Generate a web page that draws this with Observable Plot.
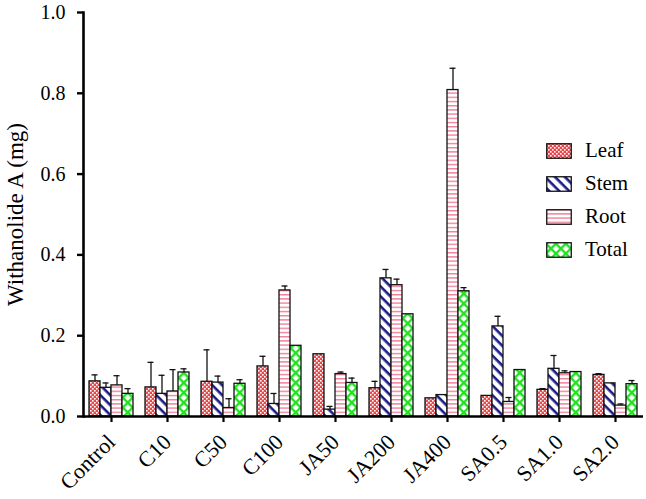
<!DOCTYPE html>
<html>
<head>
<meta charset="utf-8">
<script src="https://cdn.jsdelivr.net/npm/d3@7"></script>
<script src="https://cdn.jsdelivr.net/npm/@observablehq/plot@0.6"></script>
<style>
  html, body { margin: 0; padding: 0; background: #fff; }
  #wrap { position: relative; width: 646px; height: 499px; font-family: "Liberation Serif", "Times New Roman", serif; }
  #legend { position: absolute; left: 546px; top: 134px; }
  .li { display: flex; align-items: center; height: 33px; }
  .li svg { margin-right: 13px; }
  .li span { font-size: 21px; color: #000; font-family: "Liberation Serif", serif; }
</style>
</head>
<body>
<svg width="0" height="0" style="position:absolute">
  <defs>
    <pattern id="pLeaf" width="4" height="4" patternUnits="userSpaceOnUse">
      <rect width="4" height="4" fill="#e8474c"/>
      <rect width="1.6" height="1.6" fill="#fff"/>
      <rect x="2" y="2" width="1.6" height="1.6" fill="#fff"/>
    </pattern>
    <pattern id="pStem" width="7" height="7" patternUnits="userSpaceOnUse" patternTransform="rotate(45)">
      <rect width="7" height="7" fill="#fff"/>
      <rect width="7" height="2.6" fill="#1c1c8c"/>
    </pattern>
    <pattern id="pRoot" width="4" height="4.2" patternUnits="userSpaceOnUse">
      <rect width="4" height="4.2" fill="#fff"/>
      <rect width="4" height="1.4" fill="#f0809a"/>
    </pattern>
    <pattern id="pTotal" width="7" height="7" patternUnits="userSpaceOnUse" patternTransform="rotate(45)">
      <rect width="7" height="7" fill="#22e022"/>
      <rect x="2.4" y="2.4" width="4.6" height="4.6" fill="#fff"/>
    </pattern>
  </defs>
</svg>
<div id="wrap">
  <div id="chart"></div>
  <div id="legend"></div>
</div>
<script>
const categories = ["Control", "C10", "C50", "C100", "JA50", "JA200", "JA400", "SA0.5", "SA1.0", "SA2.0"];
const series = ["Leaf", "Stem", "Root", "Total"];
const patterns = ["url(#pLeaf)", "url(#pStem)", "url(#pRoot)", "url(#pTotal)"];

const leaf     = [0.087, 0.072, 0.086, 0.124, 0.154, 0.070, 0.045, 0.051, 0.066, 0.103];
const leafErr  = [0.016, 0.062, 0.079, 0.025, 0.000, 0.017, 0.000, 0.000, 0.003, 0.003];
const stem     = [0.071, 0.056, 0.084, 0.031, 0.017, 0.342, 0.053, 0.223, 0.118, 0.082];
const stemErr  = [0.012, 0.046, 0.016, 0.026, 0.008, 0.022, 0.000, 0.025, 0.033, 0.000];
const root     = [0.077, 0.062, 0.021, 0.312, 0.105, 0.325, 0.808, 0.036, 0.107, 0.027];
const rootErr  = [0.024, 0.054, 0.023, 0.011, 0.005, 0.015, 0.054, 0.011, 0.006, 0.004];
const total    = [0.056, 0.109, 0.081, 0.175, 0.083, 0.253, 0.310, 0.115, 0.110, 0.080];
const totalErr = [0.013, 0.009, 0.010, 0.000, 0.012, 0.000, 0.009, 0.000, 0.000, 0.009];

const yTicks = [0, 0.2, 0.4, 0.6, 0.8, 1.0];

const values = [leaf, stem, root, total];
const errors = [leafErr, stemErr, rootErr, totalErr];

const rows = [];
series.forEach((s, si) => {
  categories.forEach((c, ci) => {
    rows.push({category: c, series: s, value: values[si][ci], err: errors[si][ci]});
  });
});
const errRows = rows.filter(d => d.err > 0);

const barMarks = series.map((s, si) =>
  Plot.barY(rows.filter(d => d.series === s), {
    fx: "category", x: "series", y: "value",
    fill: patterns[si], stroke: "#111", strokeWidth: 1.3
  })
);

const SERIF = "Liberation Serif, Times New Roman, serif";

const chart = Plot.plot({
  width: 646,
  height: 499,
  marginLeft: 79,
  marginRight: 0,
  marginTop: 12,
  marginBottom: 83,
  style: {fontFamily: SERIF, fontSize: "20px", color: "#000", background: "#fff"},
  fx: {domain: categories, paddingInner: 0, paddingOuter: 0, label: null},
  x: {domain: series, axis: null, paddingInner: 0, paddingOuter: 0.533},
  y: {domain: [0, 1]},
  marks: [
    ...barMarks,
    Plot.ruleX(errRows, {fx: "category", x: "series", y1: "value", y2: d => d.value + d.err, stroke: "#111", strokeWidth: 1.3}),
    Plot.tickY(errRows, {fx: "category", x: "series", y: d => d.value + d.err, stroke: "#111", strokeWidth: 1.3, insetLeft: 2.5, insetRight: 2.5}),
    Plot.ruleY([0], {stroke: "#000", strokeWidth: 2.6}),
    Plot.frame({anchor: "left", facetAnchor: "left", stroke: "#000", strokeWidth: 2.6}),
    Plot.axisY({ticks: yTicks, tickFormat: d3.format(".1f"), tickSize: 6, tickPadding: 12, strokeWidth: 2.4, stroke: "#000",
      fontSize: 20,
      label: "Withanolide A (mg)", labelAnchor: "center", labelArrow: "none", labelOffset: 77}),
    Plot.axisFx({anchor: "bottom", label: null, tickRotate: -45, tickSize: 6, tickPadding: 16, strokeWidth: 2.2, stroke: "#000", fontSize: 22})
  ]
});

const sel = d3.select(chart);
sel.selectAll("text").style("font-family", SERIF).style("fill", "#000");
sel.selectAll('g[aria-label="y-axis label"] text').style("font-size", "23px");

document.getElementById("chart").appendChild(chart);

const legend = document.getElementById("legend");
series.forEach((s, si) => {
  const item = document.createElement("div");
  item.className = "li";
  item.innerHTML = `<svg width="26" height="16"><rect x="0.75" y="0.75" width="24.5" height="14.5" fill="${patterns[si]}" stroke="#111" stroke-width="1.3"/></svg><span>${s}</span>`;
  legend.appendChild(item);
});
</script>
</body>
</html>
